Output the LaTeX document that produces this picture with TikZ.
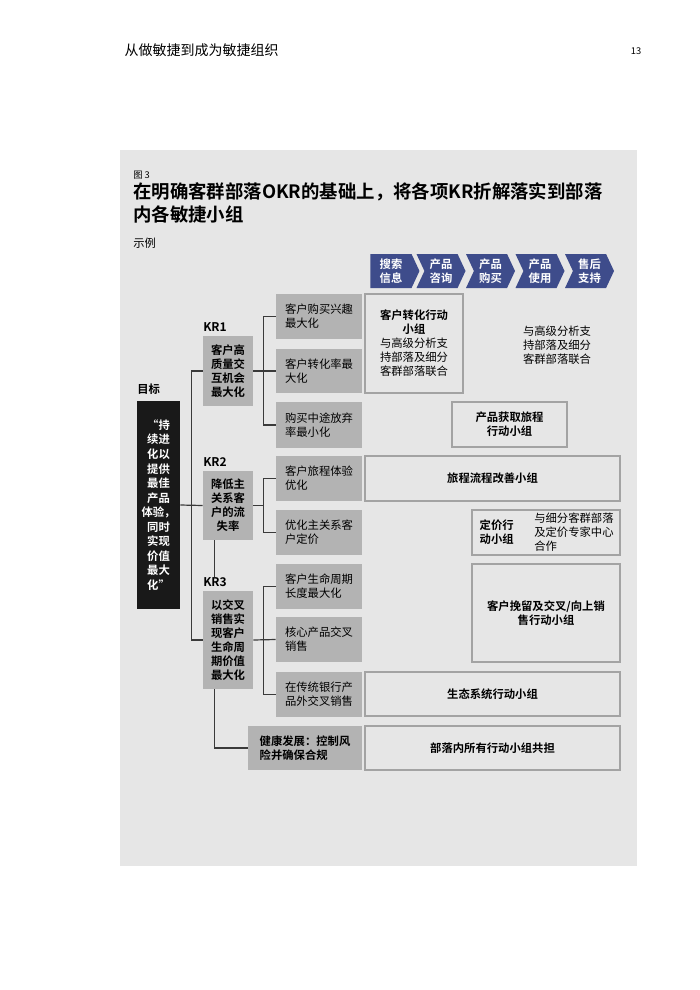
\documentclass[tikz,border=0pt]{standalone}
\usepackage{fontspec}
\setmainfont{Noto Sans CJK SC}[BoldFont={Noto Sans CJK SC Bold}]
\usetikzlibrary{positioning,shapes.symbols}
\definecolor{panelgray}{HTML}{E6E6E6}
\definecolor{boxgray}{HTML}{B3B3B3}
\definecolor{edgegray}{HTML}{A3A3A3}
\definecolor{chevblue}{HTML}{3E4C8B}
\definecolor{linegray}{HTML}{3A3A3A}
\newcommand\hdrfont{\fontsize{10.5}{12}\selectfont}
\newcommand\titlefont{\fontsize{13.8}{17.5}\selectfont\bfseries}
\newcommand\boxfont{\fontsize{8.5}{10.5}\selectfont}
\newcommand\tinyfont{\fontsize{7}{8}\selectfont}

\begin{document}
\begin{tikzpicture}[x=0.75pt, y=-0.75pt,
  sz/.style 2 args={minimum width=#1*0.75pt, minimum height=#2*0.75pt},
  kr/.style={fill=boxgray, inner sep=0, font=\boxfont\bfseries, align=center},
  sub/.style={fill=boxgray, inner sep=0, font=\boxfont, align=left},
  team/.style={draw=edgegray, line width=0.8pt, inner sep=0, font=\boxfont\bfseries, align=center},
  krlabel/.style={font=\fontsize{9}{10}\selectfont\bfseries, inner sep=0, anchor=base west},
  chev/.style={signal, signal to=east, signal from=west, signal pointer angle=130,
    fill=chevblue, text=white, font=\boxfont\bfseries, align=center, inner sep=0, sz={49}{34}},
  link/.style={draw=linegray, line width=0.9pt}]
  \useasboundingbox (0,0) rectangle (700,990);

  % page header
  \node[anchor=west, font=\hdrfont] (hdr) at (120,50) {从做敏捷到成为敏捷组织};
  \node[anchor=east, font=\tinyfont] (pgno) at (646,51) {13};

  % panel and title
  \fill[panelgray] (120,150) rectangle (637,866);
  \node[anchor=west, font=\tinyfont, inner sep=0] (fig) at (133,175) {图 3};
  \node[anchor=north west, font=\titlefont, align=left, inner sep=0] (title) at (133,182)
    {在明确客群部落OKR的基础上，将各项KR折解落实到部落\\内各敏捷小组};
  \node[anchor=west, font=\boxfont, inner sep=0] (eg) at (133,243) {示例};

  % journey chevrons
  \node[chev, signal from=nowhere] (c1) at (391,271) {搜索\\信息};
  \node[chev] (c2) at (441,271) {产品\\咨询};
  \node[chev] (c3) at (490.5,271) {产品\\购买};
  \node[chev] (c4) at (540,271) {产品\\使用};
  \node[chev] (c5) at (589.5,271) {售后\\支持};

  % objective
  \node[anchor=west, font=\boxfont\bfseries, inner sep=0] (goallbl) at (137,389) {目标};
  \node[fill=black!90, text=white, font=\fontsize{8.5}{10.9}\selectfont\bfseries, align=center,
    inner sep=0, sz={43}{208}] (goal) at (158.5,505)
    {“持\\续进\\化以\\提供\\最佳\\产品\\体验，\\同时\\实现\\价值\\最大\\化”};

  % key results
  \node[krlabel] (kr1lbl) at (203,331) {KR1};
  \node[kr, sz={50}{70}] (kr1) at (228,371) {客户高\\质量交\\互机会\\最大化};
  \node[krlabel] (kr2lbl) at (203,466) {KR2};
  \node[kr, sz={50}{69}] (kr2) at (228,505.5) {降低主\\关系客\\户的流\\失率};
  \node[krlabel] (kr3lbl) at (203,586) {KR3};
  \node[kr, sz={50}{98}] (kr3) at (228,640) {以交叉\\销售实\\现客户\\生命周\\期价值\\最大化};

  % sub goals
  \node[sub, sz={86}{45}] (s11) at (319,316.5) {客户购买兴趣\\最大化};
  \node[sub, sz={86}{44}] (s12) at (319,371) {客户转化率最\\大化};
  \node[sub, sz={86}{46}] (s13) at (319,425) {购买中途放弃\\率最小化};
  \node[sub, sz={86}{45}] (s21) at (319,478.5) {客户旅程体验\\优化};
  \node[sub, sz={86}{45}] (s22) at (319,532.5) {优化主关系客\\户定价};
  \node[sub, sz={86}{45}] (s31) at (319,586.5) {客户生命周期\\长度最大化};
  \node[sub, sz={86}{45}] (s32) at (319,639.5) {核心产品交叉\\销售};
  \node[sub, sz={86}{45}] (s33) at (319,694.5) {在传统银行产\\品外交叉销售};
  \node[sub, font=\boxfont\bfseries, sz={114}{44}] (health) at (305,748) {健康发展：控制风\\险并确保合规};

  % agile teams
  \node[team, sz={98}{99}] (t1) at (414,343.5)
    {客户转化行动\\小组\\\mdseries 与高级分析支\\\mdseries 持部落及细分\\\mdseries 客群部落联合};
  \node[font=\boxfont, align=center, inner sep=0] (t1note) at (557,345) {与高级分析支\\持部落及细分\\客群部落联合};
  \node[team, sz={115}{45}] (t2) at (509.5,424.5) {产品获取旅程\\行动小组};
  \node[team, sz={255}{45}] (t3) at (492.5,478.5) {旅程流程改善小组};
  \node[team, sz={148}{45}] (t4) at (546,532.5) {};
  \node[font=\boxfont\bfseries, align=left, inner sep=0, right=6pt of t4.west] (t4a) {定价行\\动小组};
  \node[font=\boxfont, align=left, inner sep=0, left=5pt of t4.east] (t4b) {与细分客群部落\\及定价专家中心\\合作};
  \node[team, sz={148}{98}] (t5) at (546,613) {客户挽留及交叉/向上销\\售行动小组};
  \node[team, sz={255}{44}] (t6) at (492.5,694) {生态系统行动小组};
  \node[team, sz={255}{44}] (t7) at (492.5,748) {部落内所有行动小组共担};

  % tree lines
  \draw[link] (kr1.west) -- ++(-11,0) |- (kr3.west);
  \draw[link] (goal.east) -- (kr2.west);
  \draw[link] (kr1.east) -- (s12.west);
  \draw[link] (s11.west) -- ++(-12,0) |- (s13.west);
  \draw[link] (kr2.east) -- ++(11,0);
  \draw[link] (s21.west) -- ++(-12,0) |- (s22.west);
  \draw[link] (kr3.east) -- (s32.west);
  \draw[link] (s31.west) -- ++(-12,0) |- (s33.west);
  \coordinate (kr2foot) at ([xshift=9pt]kr2.south west);
  \draw[link] (kr2foot) -- (kr2foot |- kr3lbl.north);
  \coordinate (kr3foot) at ([xshift=9pt]kr3.south west);
  \draw[link] (kr3foot) |- (health.west);
\end{tikzpicture}
\end{document}
